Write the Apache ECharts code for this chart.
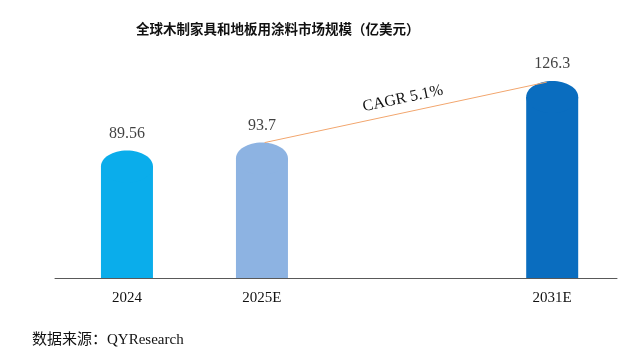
<!DOCTYPE html>
<html>
<head>
<meta charset="utf-8">
<script src="https://cdn.jsdelivr.net/npm/echarts@6/dist/echarts.min.js"></script>
<style>
  html, body { margin: 0; padding: 0; background: #fff; }
  #chart { width: 640px; height: 353px; }
</style>
</head>
<body>
<div id="chart"></div>
<script>
// 数据
var categories = ['2024', '2025E', '2031E'];
var values = [89.56, 93.7, 126.3];
// 横轴位置（原图中2025E与2031E之间留有较大间距）
var xPos = [1, 2, 4.15];
var barColors = ['#0AADEB', '#8DB3E2', '#0A6DBF'];
var cagrText = 'CAGR 5.1%';

var yMin = 22;
var serif = '"Liberation Serif", "Times New Roman", "Noto Sans CJK SC", serif';

var myChart = echarts.init(document.getElementById('chart'));

var barData = values.map(function (v, i) { return [xPos[i], v, i]; });

myChart.setOption({
  animation: false,
  title: {
    text: '全球木制家具和地板用涂料市场规模（亿美元）',
    left: 131,
    top: 17,
    textStyle: {
      fontFamily: '"Noto Sans CJK SC", sans-serif',
      fontSize: 13.5,
      fontWeight: 'bold',
      color: '#111'
    }
  },
  graphic: [{
    type: 'text',
    left: 32,
    top: 333,
    style: {
      text: '数据来源：QYResearch',
      font: '15px "Liberation Serif", "Noto Sans CJK SC", serif',
      fill: '#111'
    }
  }],
  grid: { left: 55, right: 23, top: 40, bottom: 75 },
  xAxis: {
    type: 'value',
    min: 0.467,
    max: 4.63,
    splitLine: { show: false },
    axisTick: { show: false },
    axisLine: { show: true, onZero: false, lineStyle: { color: '#595959', width: 1 } },
    axisLabel: {
      customValues: xPos,
      margin: 13,
      fontFamily: serif,
      fontSize: 15,
      color: '#111',
      formatter: function (v) {
        var best = 0;
        for (var i = 1; i < xPos.length; i++) {
          if (Math.abs(xPos[i] - v) < Math.abs(xPos[best] - v)) best = i;
        }
        return categories[best];
      }
    }
  },
  yAxis: {
    type: 'value',
    min: yMin,
    max: 148,
    show: false,
    splitLine: { show: false }
  },
  series: [
    {
      type: 'custom',
      data: barData,
      renderItem: function (params, api) {
        var x = api.value(0);
        var top = api.coord([x, api.value(1)]);
        var base = api.coord([x, yMin]);
        var rx = 26, ry = 16;
        var c = barColors[api.value(2)];
        return {
          type: 'group',
          children: [
            {
              type: 'rect',
              shape: { x: top[0] - rx, y: top[1] + ry, width: rx * 2, height: base[1] - top[1] - ry },
              style: { fill: c }
            },
            {
              type: 'ellipse',
              shape: { cx: top[0], cy: top[1] + ry, rx: rx, ry: ry },
              style: { fill: c }
            }
          ]
        };
      }
    },
    {
      type: 'scatter',
      data: barData,
      symbolSize: 0,
      label: {
        show: true,
        position: 'top',
        distance: 9,
        fontFamily: serif,
        fontSize: 16,
        color: '#111',
        formatter: function (p) { return String(values[p.data[2]]); }
      },
      markLine: {
        silent: true,
        symbol: ['none', 'arrow'],
        symbolSize: [0, 8],
        lineStyle: { color: '#F2A66E', width: 1, type: 'solid' },
        label: {
          show: true,
          position: 'middle',
          distance: 6,
          formatter: cagrText,
          fontFamily: serif,
          fontSize: 16,
          color: '#111'
        },
        data: [[
          { coord: [xPos[1] + 0.02, values[1]] },
          { coord: [xPos[2] - 0.04, values[2] - 0.6] }
        ]]
      }
    }
  ]
});
</script>
</body>
</html>
